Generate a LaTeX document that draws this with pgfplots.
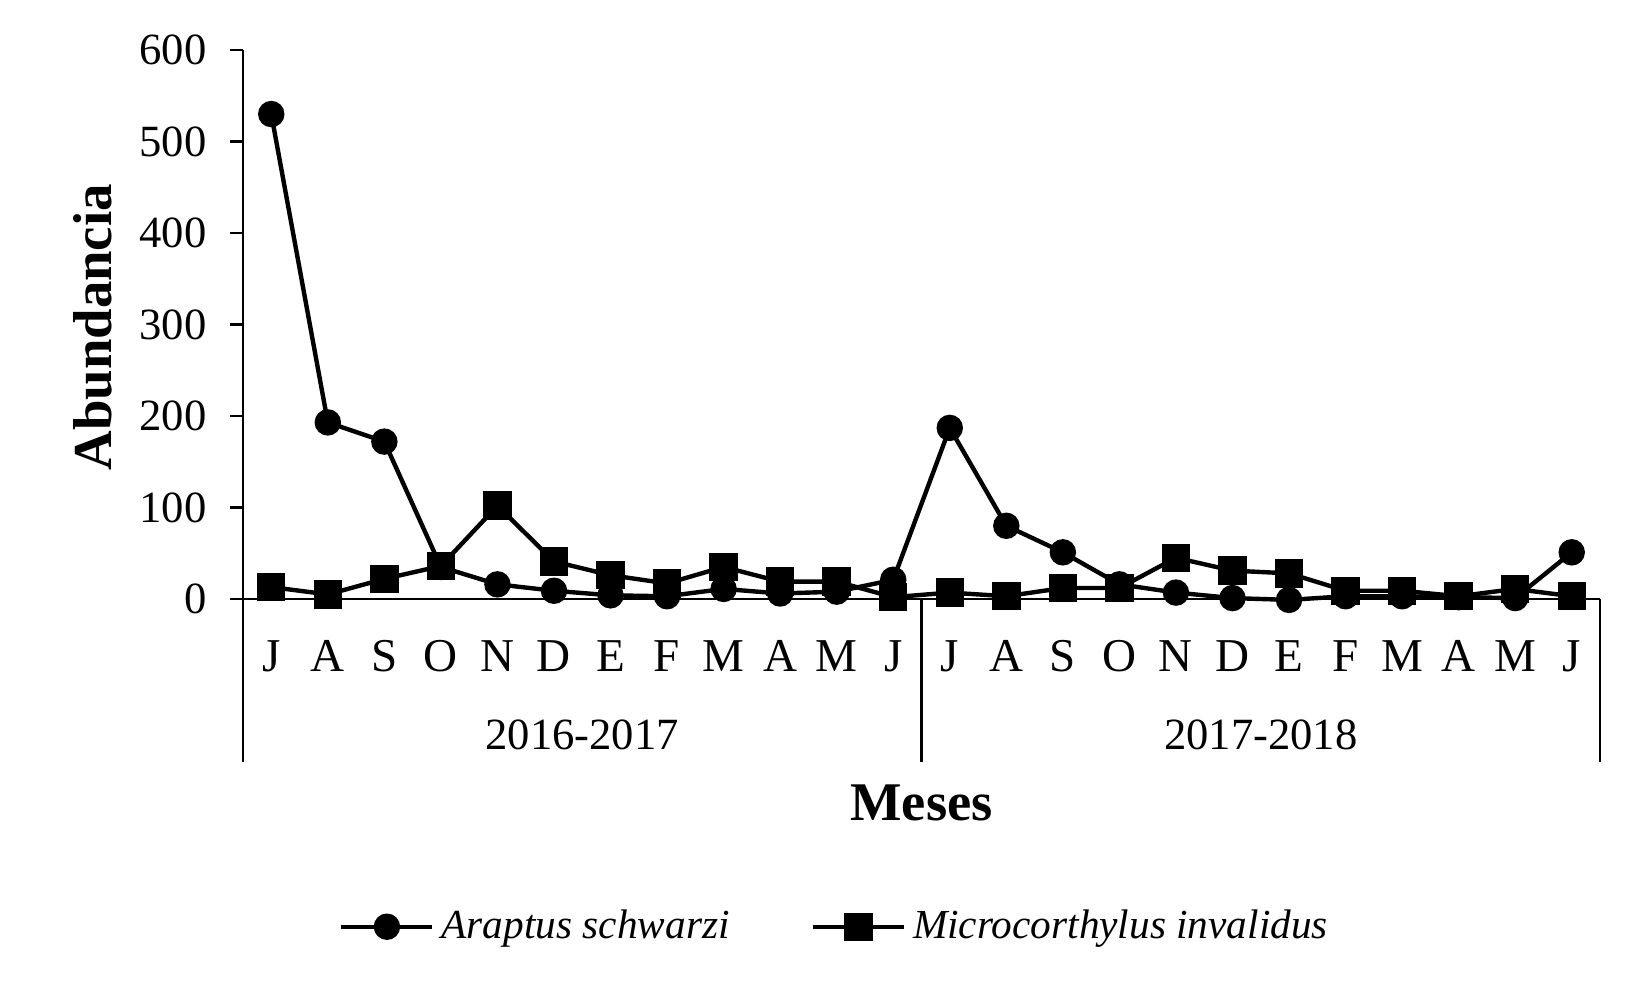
\documentclass[border=0pt]{standalone}
\usepackage{fontspec}
\setmainfont{Liberation Serif}
\usepackage{pgfplots}
\pgfplotsset{compat=1.18}

\begin{document}
\begin{tikzpicture}
\path[use as bounding box] (0,0) rectangle (16.5cm,9.9cm);
\begin{axis}[
  at={(2.43cm,3.91cm)}, anchor=south west,
  scale only axis, width=13.57cm, height=5.49cm,
  xmin=0.5, xmax=24.5, ymin=0, ymax=600,
  clip=false,
  axis lines*=left, axis line style={line width=0.75pt},
  ytick={0,100,...,600}, tick align=outside, major tick length=0.13cm,
  ytick style={line width=0.75pt, black},
  xtick={1,...,24},
  xticklabels={J,A,S,O,N,D,E,F,M,A,M,J,J,A,S,O,N,D,E,F,M,A,M,J},
  xtick style={draw=none},
  xticklabel style={anchor=base, yshift=-0.595cm, font=\fontsize{13.4}{16}\selectfont},
  yticklabel style={xshift=-0.11cm, font=\fontsize{12.7}{15}\selectfont},
  /pgf/number format/assume math mode=true,
  xlabel={Meses}, ylabel={Abundancia},
  every axis x label/.style={at={(axis description cs:0.5,-0.372)}, anchor=center, font=\bfseries\fontsize{15.5}{18}\selectfont},
  every axis y label/.style={at={(axis description cs:-0.1105,0.495)}, rotate=90, anchor=center, font=\bfseries\fontsize{15.6}{18}\selectfont},
  legend columns=2,
  legend style={at={(axis description cs:0.0704,-0.597)}, anchor=west, draw=none, fill=none, inner sep=0pt,
    font=\itshape\fontsize{11.75}{14}\selectfont,
    /tikz/every even column/.append style={column sep=0.74cm}},
  legend image code/.code={\draw[mark repeat=2,mark phase=2,#1] plot coordinates {(0cm,0cm) (0.455cm,0cm) (0.91cm,0cm)};},
]
% Araptus schwarzi
\addplot[black, line width=1.25pt, mark=*, mark size=0.11cm, mark options={solid}] coordinates {
(1,530)(2,193)(3,172)(4,35)(5,16)(6,9)(7,4)(8,3)(9,11)(10,6)(11,8)(12,21)
(13,187)(14,80)(15,51)(16,16)(17,7)(18,1)(19,-1)(20,3)(21,3)(22,2)(23,1)(24,51)};
\addlegendentry{Araptus schwarzi}
% Microcorthylus invalidus
\addplot[black, line width=1.25pt, mark=square*, mark size=0.12cm, mark options={solid}] coordinates {
(1,13)(2,5)(3,22)(4,36)(5,102)(6,41)(7,26)(8,17)(9,35)(10,19)(11,19)(12,2)
(13,7)(14,3)(15,12)(16,12)(17,45)(18,31)(19,28)(20,9)(21,9)(22,3)(23,11)(24,3)};
\addlegendentry{Microcorthylus invalidus}
% multi-level category axis
\draw[line width=0.75pt] (axis cs:0.5,0) -- (axis cs:0.5,-178);
\draw[line width=0.75pt] (axis cs:12.5,0) -- (axis cs:12.5,-178);
\draw[line width=0.75pt] (axis cs:24.5,0) -- (axis cs:24.5,-178);
\node[anchor=base, font=\fontsize{12.7}{15}\selectfont] at (axis cs:6.5,-165) {2016-2017};
\node[anchor=base, font=\fontsize{12.7}{15}\selectfont] at (axis cs:18.5,-165) {2017-2018};
\end{axis}
\end{tikzpicture}
\end{document}
